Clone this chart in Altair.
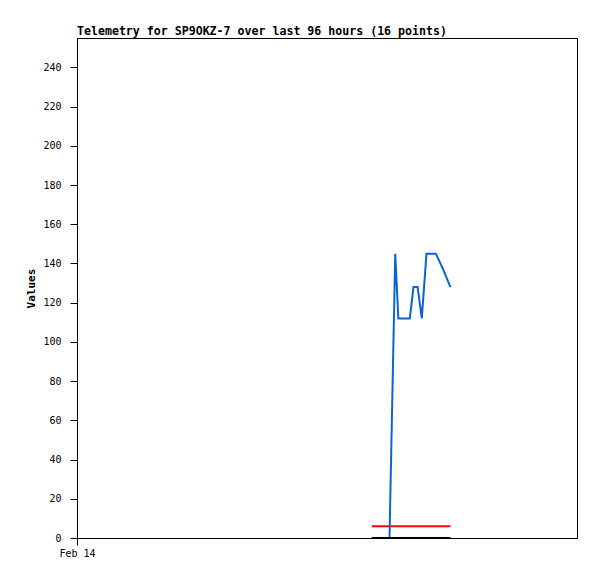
import altair as alt
import pandas as pd

# Data
times = [
    "2024-02-16T08:36:00", "2024-02-16T09:30:00", "2024-02-16T10:24:00",
    "2024-02-16T11:12:00", "2024-02-16T12:00:00", "2024-02-16T13:06:00",
    "2024-02-16T13:42:00", "2024-02-16T14:48:00", "2024-02-16T15:54:00",
    "2024-02-16T16:36:00", "2024-02-16T17:24:00", "2024-02-16T18:12:00",
    "2024-02-16T19:06:00", "2024-02-16T20:54:00", "2024-02-16T22:18:00",
    "2024-02-16T23:42:00",
]
series_blue = [0, 0, 0, 0, 0, 145, 112, 112, 112, 128, 128, 112, 145, 145, 137, 128]
series_red = [6, 6, 6, 6, 6, 6, 6, 6, 6, 6, 6, 6, 6, 6, 6, 6]
series_black = [0, 0, 0, 0, 0, 0, 0, 0, 0, 0, 0, 0, 0, 0, 0, 0]

series_names = ["red", "blue", "black"]
series_colors = ["#ff0000", "#0a64d2", "#000000"]

y_ticks = [0, 20, 40, 60, 80, 100, 120, 140, 160, 180, 200, 220, 240]
title_text = "Telemetry for SP9OKZ-7 over last 96 hours (16 points)"
y_title = "Values"

df = pd.DataFrame({"time": times, "blue": series_blue, "red": series_red, "black": series_black})

FONT = "DejaVu Sans Mono"

x_enc = alt.X(
    "time:T",
    scale=alt.Scale(domain=[alt.DateTime(year=2024, month=2, date=14),
                            alt.DateTime(year=2024, month=2, date=18)]),
    axis=alt.Axis(values=[alt.DateTime(year=2024, month=2, date=14)], format="%b %d",
                  title=None, grid=False, tickSize=7, labelPadding=3,
                  labelFlush=False, labelAlign="center"),
)
y_enc = alt.Y(
    "value:Q",
    scale=alt.Scale(domain=[0, 255], nice=False, zero=True),
    axis=alt.Axis(values=y_ticks, title=y_title, grid=False, tickSize=7, labelPadding=9,
                  titlePadding=6),
)

base = alt.Chart(df).transform_fold(["blue", "red", "black"], as_=["series", "value"])

layers = []
for name, col in zip(series_names, series_colors):
    layers.append(
        base.transform_filter(alt.datum.series == name)
        .mark_line(color=col, strokeWidth=2, interpolate="linear")
        .encode(x=x_enc, y=y_enc)
    )

chart = alt.layer(*layers).properties(
    width=500,
    height=500,
    title=alt.TitleParams(title_text, anchor="start", frame="group", font=FONT,
                          fontSize=11.6, fontWeight="bold", color="black", offset=0),
    autosize=alt.AutoSizeParams(type="none"),
    padding={"left": 69, "top": 30, "right": 12, "bottom": 33},
).configure_view(stroke="black", strokeWidth=1).configure_axis(
    labelFont=FONT, labelFontSize=10, labelColor="black",
    titleFont=FONT, titleFontSize=11, titleFontWeight="bold", titleColor="black",
    domainColor="black", tickColor="black", domainWidth=1, tickWidth=1,
)

chart.save("out.html", embed_options={"renderer": "svg", "actions": False})
